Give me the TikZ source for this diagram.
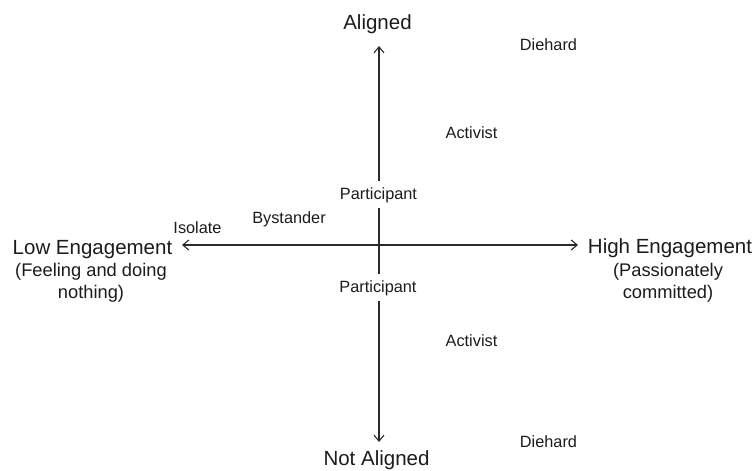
\documentclass[tikz,border=0pt]{standalone}
\usepackage{fontspec}
\setmainfont{Liberation Sans}
\usetikzlibrary{arrows.meta}
\definecolor{ink}{HTML}{1C1C1C}
\definecolor{axis}{HTML}{2A2A2A}
\tikzset{
  big/.style={font=\fontsize{20.5}{24}\selectfont, text=ink, inner sep=0pt, anchor=base},
  sub/.style={font=\fontsize{18.3}{22}\selectfont, text=ink, inner sep=0pt, anchor=base},
  lab/.style={font=\fontsize{16.3}{19}\selectfont, text=ink, inner sep=0pt, anchor=base},
  axisline/.style={draw=axis, line width=1.2pt},
  tip/.style={-{Straight Barb[length=6pt,width=10pt,line width=1.1pt]}},
  biarrow/.style={{Straight Barb[length=6pt,width=10pt,line width=1.1pt]}-{Straight Barb[length=6pt,width=10pt,line width=1.1pt]}},
}
\begin{document}
\begin{tikzpicture}[x=1pt,y=-1pt]
\useasboundingbox (0,0) rectangle (755,471);
\fill[white] (0,0) rectangle (755,471);
% axis end points
\coordinate (top) at (379,46);
\coordinate (bottom) at (379,442);
\coordinate (left) at (182,245);
\coordinate (right) at (578,245);
\draw[axisline,biarrow] (left) -- (right);
\draw[axisline,biarrow] (top) -- (bottom);
% axis titles
\node[big] (aligned) at (377.5,29) {Aligned};
\node[big] (notaligned) at (376.5,465) {Not Aligned};
\node[big] (low) at (92.5,254) {Low Engagement};
\node[sub] (lowA) at (91,276) {(Feeling and doing};
\node[sub] (lowB) at (91,298) {nothing)};
\node[big] (high) at (670,253) {High Engagement};
\node[sub] (highA) at (668,276) {(Passionately};
\node[sub] (highB) at (668,298) {committed)};
% category labels
\node[lab] (diehardT) at (548.5,50) {Diehard};
\node[lab] (activistT) at (471.5,138) {Activist};
\node[lab, fill=white, inner xsep=2pt, inner ysep=6pt] (partT) at (378.5,199) {Participant};
\node[lab] (bystander) at (289,223) {Bystander};
\node[lab] (isolate) at (197.5,233) {Isolate};
\node[lab, fill=white, inner xsep=2pt, inner ysep=6pt] (partB) at (378,292) {Participant};
\node[lab] (activistB) at (471.5,346) {Activist};
\node[lab] (diehardB) at (548.5,447) {Diehard};
\end{tikzpicture}
\end{document}
